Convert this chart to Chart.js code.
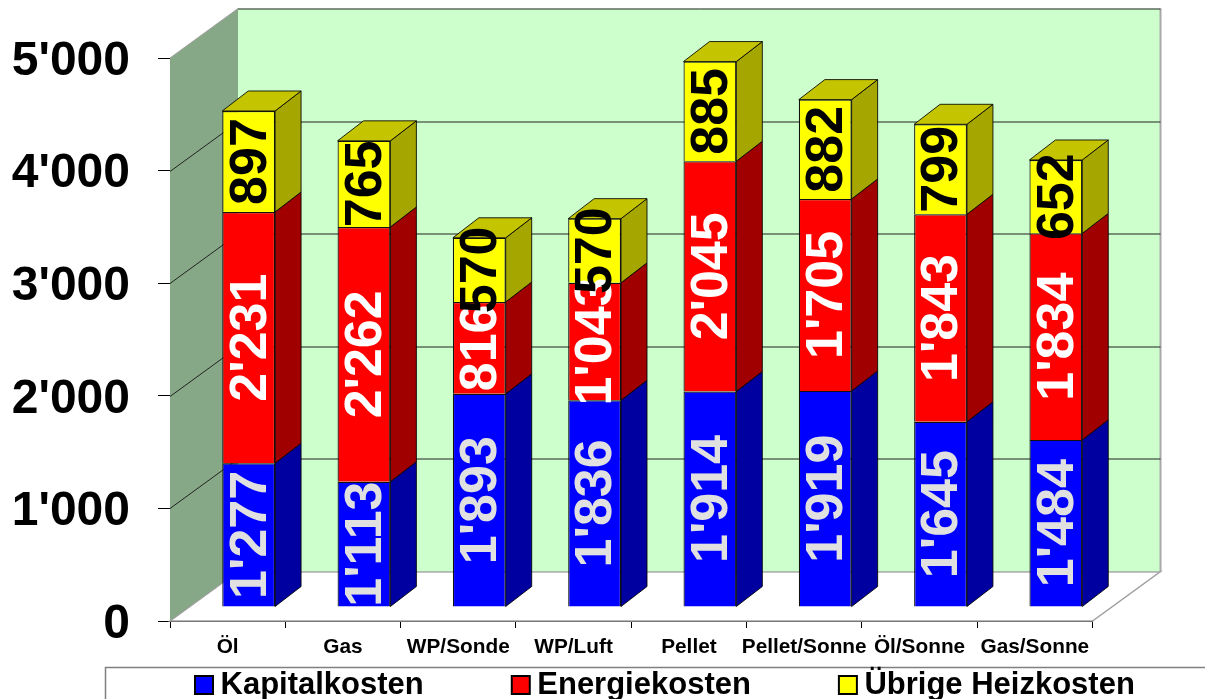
<!DOCTYPE html>
<html><head><meta charset="utf-8">
<style>html,body{margin:0;padding:0;background:#fff}#w{width:1205px;height:699px;position:relative;overflow:hidden}</style>
<script src="https://cdn.jsdelivr.net/npm/chart.js@4"></script>
</head><body><div id="w"><canvas id="c" width="1205" height="699"></canvas></div>
<script>
const categories = ["Öl","Gas","WP/Sonde","WP/Luft","Pellet","Pellet/Sonne","Öl/Sonne","Gas/Sonne"];
const kapitalkosten = [1277,1113,1893,1836,1914,1919,1645,1484];
const energiekosten = [2231,2262,816,1043,2045,1705,1843,1834];
const uebrigeKosten = [897,765,570,570,885,882,799,652];
const yTickLabels = ["0","1'000","2'000","3'000","4'000","5'000"];
const FONT = '"Liberation Sans", Arial, sans-serif';
const WALL = {dx:68, dy:-49.5};
const BAR = {ox:21, oy:-14, dx:26, dy:-20};
const sideColors = ["#0000A0","#A00000","#A6A600"];
const labelColors = ["#E0E0E0","#FFFFFF","#000000"];
const EDGE = "rgba(0,0,0,0.85)";
function fmt(v){const s=String(v);return s.length>3?s.slice(0,-3)+"'"+s.slice(-3):s;}
function poly(ctx,pts,fill,stroke,lw){ctx.beginPath();pts.forEach((p,i)=>i?ctx.lineTo(p[0],p[1]):ctx.moveTo(p[0],p[1]));ctx.closePath();
  if(fill){ctx.fillStyle=fill;ctx.fill();} if(stroke){ctx.strokeStyle=stroke;ctx.lineWidth=lw||1;ctx.stroke();}}
const scene = {
  id:'scene',
  beforeLayout(chart){
    const l=chart.legend;
    if(!l._fitWrapped){
      const f=l.fit;
      l.fit=function(){this.maxWidth=1600;f.call(this);this.height=33;};
      l._fitWrapped=true;
    }
  },
  afterUpdate(chart){
    const l=chart.legend;
    l.left=107; l.right=1600; l.top=669.5-96; l.bottom=730;
  },
  beforeDraw(chart){
    const c=chart.ctx;
    c.save();
    c.strokeStyle="#808080";c.lineWidth=1.5;c.strokeRect(105.5,667.5,1300,100);
    c.restore();
  },
  beforeDatasetsDraw(chart){
    const c=chart.ctx,{x,y}=chart.scales;
    const L=x.left,R=x.right,B=y.getPixelForValue(0),T=y.getPixelForValue(5000);
    const d=WALL;
    c.save();
    // floor
    poly(c,[[L,B],[L+d.dx,B+d.dy],[R+d.dx,B+d.dy],[R,B]],"#FFFFFF","#A0A0A0",1.5);
    // back wall
    poly(c,[[L+d.dx,B+d.dy],[L+d.dx,T+d.dy],[R+d.dx,T+d.dy],[R+d.dx,B+d.dy]],"#CCFFCC");
    c.strokeStyle="#A8A8A8";c.lineWidth=2;c.beginPath();c.moveTo(R+d.dx,T+d.dy);c.lineTo(R+d.dx,B+d.dy);c.stroke();
    c.strokeStyle="#A0A0A0";c.lineWidth=1;c.beginPath();c.moveTo(L+d.dx,B+d.dy+.5);c.lineTo(R+d.dx,B+d.dy+.5);c.stroke();
    // left wall
    poly(c,[[L,B],[L+d.dx,B+d.dy],[L+d.dx,T+d.dy],[L,T]],"#86A886");
    c.strokeStyle="#A0A0A0";c.lineWidth=1;c.beginPath();c.moveTo(L,T);c.lineTo(L+d.dx,T+d.dy);c.moveTo(L,B);c.lineTo(L+d.dx,B+d.dy);c.stroke();
    // gridlines
    c.strokeStyle="#222";c.lineWidth=1;
    y.ticks.forEach(t=>{
      if(t.value===0) return;
      const p=Math.round(y.getPixelForValue(t.value))+.5;
      c.beginPath();
      if(t.value<5000){c.moveTo(L,p);c.lineTo(L+d.dx,p+d.dy);}else{c.moveTo(L+d.dx,p+d.dy);}
      c.lineTo(R+d.dx,p+d.dy);c.stroke();
    });
    c.restore();
    // 3D sides of the bars
    c.save();
    c.translate(BAR.ox,BAR.oy);
    const n=chart.data.datasets.length;
    chart.data.datasets.forEach((ds,i)=>{
      chart.getDatasetMeta(i).data.forEach(el=>{
        const p=el.getProps(['x','y','base','width'],true);
        const r=p.x+p.width/2,l=p.x-p.width/2;
        poly(c,[[r,p.base],[r+BAR.dx,p.base+BAR.dy],[r+BAR.dx,p.y+BAR.dy],[r,p.y]],sideColors[i],EDGE,1);
        if(i===n-1) poly(c,[[l,p.y],[l+BAR.dx,p.y+BAR.dy],[r+BAR.dx,p.y+BAR.dy],[r,p.y]],"#C4C400",EDGE,1);
      });
    });
    c.restore();
    c.save();
    c.translate(BAR.ox,BAR.oy);
  },
  afterDatasetsDraw(chart){
    const c=chart.ctx;
    chart.data.datasets.forEach((ds,i)=>{
      chart.getDatasetMeta(i).data.forEach((el,k)=>{
        const p=el.getProps(['x','y','base'],true);
        c.save();
        c.translate(p.x+.5,(p.y+p.base)/2);
        c.rotate(-Math.PI/2);
        c.font='bold 52px '+FONT;
        c.fillStyle=labelColors[i];
        c.textAlign='center';c.textBaseline='middle';
        c.fillText(fmt(ds.data[k]),0,2);
        c.restore();
      });
    });
    c.restore();
  }
};
const mk=(label,data,color)=>({label,data,backgroundColor:color,borderColor:"#111",borderWidth:1.2,clip:false,barPercentage:0.458,categoryPercentage:1});
new Chart(document.getElementById('c'),{
  type:'bar',
  data:{labels:categories,datasets:[mk("Kapitalkosten",kapitalkosten,"#0000FF"),mk("Energiekosten",energiekosten,"#FF0000"),mk("Übrige Heizkosten",uebrigeKosten,"#FFFF00")]},
  plugins:[scene],
  options:{
    responsive:false,animation:false,
    layout:{padding:{left:0,top:58,right:112.5,bottom:0}},
    plugins:{
      tooltip:{enabled:false},
      legend:{position:'bottom',align:'start',labels:{
        usePointStyle:true,pointStyle:'rect',boxWidth:2,boxHeight:18,padding:96,color:'#000',
        font:{family:FONT,size:31,weight:'bold'},
        generateLabels(ch){return Chart.defaults.plugins.legend.labels.generateLabels(ch).map(o=>{o.lineWidth=2;o.strokeStyle='#000';return o;});}
      }}
    },
    scales:{
      x:{stacked:true,afterFit(s){s.height=45;},
        border:{color:'#000',width:1},
        grid:{drawOnChartArea:false,color:'#000',tickLength:7,offset:true},
        ticks:{autoSkip:false,maxRotation:0,minRotation:0,padding:7,color:'#000',font:{family:FONT,size:20.8,weight:'bold'}}},
      y:{stacked:true,min:0,max:5000,afterFit(s){s.width=170;},
        border:{color:'#000',width:1},
        grid:{drawOnChartArea:false,color:'#000',tickLength:12},
        ticks:{stepSize:1000,padding:28,labelOffset:3.5,color:'#000',font:{family:FONT,size:48,weight:'bold'},
          callback(v){return yTickLabels[v/1000];}}}
    }
  }
});
</script></body></html>
